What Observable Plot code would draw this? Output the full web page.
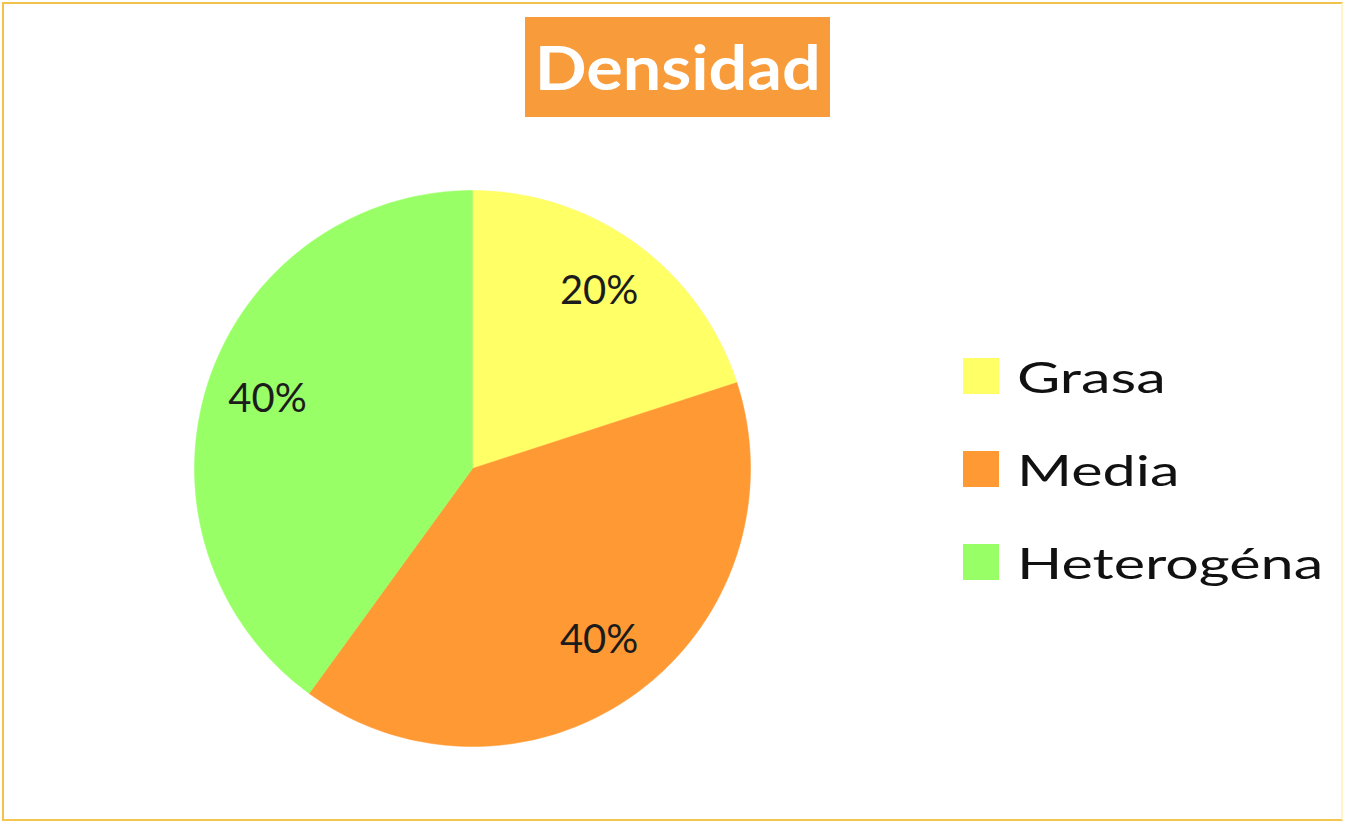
<!DOCTYPE html>
<html>
<head>
<meta charset="utf-8">
<script src="https://cdn.jsdelivr.net/npm/d3@7"></script>
<script src="https://cdn.jsdelivr.net/npm/@observablehq/plot@0.6"></script>
<style>
  html, body { margin: 0; padding: 0; background: #fff; }
  #frame { position: relative; width: 1345px; height: 821px; overflow: hidden; background: #fff; }
  #border { position: absolute; left: 2px; top: 2px; width: 1337px; height: 815px;
    border-left: 2px solid #f1c24c; border-top: 2px solid #f1c24c; border-bottom: 2px solid #f3c64f;
    border-right: 2px solid #fff4c8; pointer-events: none; }
  #chart { position: absolute; left: 0; top: 0; }
  #title { position: absolute; left: 525px; top: 17px; width: 305px; height: 100px;
    background: #f89b3b; color: #fff; font-family: Lato, sans-serif; font-weight: 700;
    font-size: 61px; line-height: 100px; text-align: center; }
  #title span { display: inline-block; transform: scaleX(1.12); transform-origin: center; }
  #legend { position: absolute; left: 963px; top: 353px; }
  .lg-swatches { font-family: Lato, sans-serif !important; font-size: 43px !important; color: #111 !important; margin: 0 !important; }
  .lg-swatches .lg-swatch { display: flex !important; align-items: center !important; height: 46px; margin-bottom: 47px !important; padding: 0 !important; }
  .lg-swatches .lg-swatch > svg { margin-right: 18px !important; }
  .lg-swatches .lg-swatch-label { overflow: visible !important; display: inline-block; transform: scaleX(1.38); transform-origin: left center; }
</style>
</head>
<body>
<div id="frame">
  <div id="chart"></div>
  <div id="title"><span></span></div>
  <div id="legend"></div>
  <div id="border"></div>
</div>
<script>
const titleText = "Densidad";
const categories = ["Grasa", "Media", "Heterogéna"];
const values = [20, 40, 40];
const labels = ["20%", "40%", "40%"];
const colors = ["#ffff66", "#ff9933", "#99ff66"];

document.querySelector("#title span").textContent = titleText;

const arcs = d3.pie().sort(null).value(d => d)(values);

// slice outlines in unit-circle data space (angles clockwise from top)
const slicePts = [];
arcs.forEach((a, i) => {
  const cat = categories[i];
  slicePts.push({x: 0, y: 0, cat});
  const n = 120;
  for (let k = 0; k <= n; k++) {
    const t = a.startAngle + (a.endAngle - a.startAngle) * k / n;
    slicePts.push({x: Math.sin(t), y: Math.cos(t), cat});
  }
  slicePts.push({x: 0, y: 0, cat});
});

const labelR = 0.775;
const labelData = arcs.map((a, i) => {
  const m = (a.startAngle + a.endAngle) / 2;
  return {x: labelR * Math.sin(m), y: labelR * Math.cos(m), text: labels[i], cat: categories[i]};
});

const colorScale = {domain: categories, range: colors};

const chart = Plot.plot({
  width: 1345,
  height: 821,
  margin: 0,
  style: {background: "transparent", overflow: "visible"},
  x: {domain: [-1, 1], range: [194, 750], axis: null},
  y: {domain: [-1, 1], range: [746, 190], axis: null},
  color: colorScale,
  marks: [
    Plot.line(slicePts, {x: "x", y: "y", z: "cat", fill: "cat", stroke: "cat", strokeWidth: 0.5, curve: "linear"}),
    Plot.text(labelData, {x: "x", y: "y", dy: -3, text: "text", fontSize: 40, fontFamily: "Lato, sans-serif", fill: "#1c1c1c"})
  ]
});
document.getElementById("chart").appendChild(chart);

const legend = Plot.legend({
  color: colorScale,
  legend: "swatches",
  columns: 1,
  swatchSize: 36,
  className: "lg"
});
document.getElementById("legend").appendChild(legend);
</script>
</body>
</html>
